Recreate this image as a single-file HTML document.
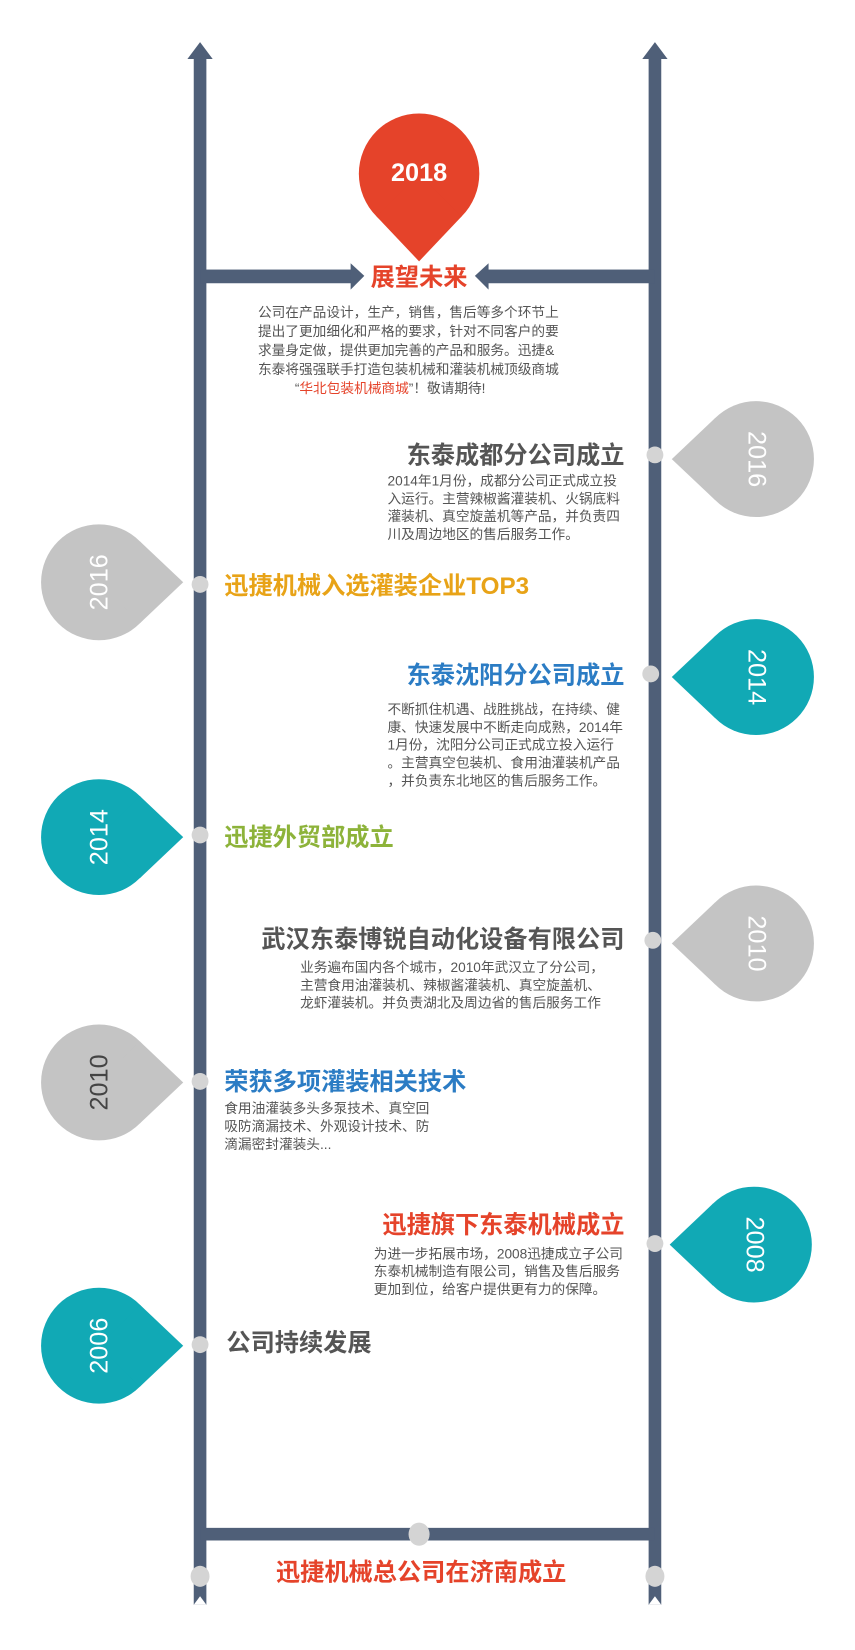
<!DOCTYPE html>
<html><head><meta charset="utf-8"><style>
html,body{margin:0;padding:0;background:#fff;}
svg{display:block;font-family:"Liberation Sans","Noto Sans CJK SC",sans-serif;}
.t{font-weight:bold;font-size:23px;}
.p{font-size:13px;fill:#555;}
.y{font-size:24px;fill:#fff;}
</style></head><body>
<svg width="855" height="1650" viewBox="0 0 812 1567" preserveAspectRatio="none">
<defs>
<g id="pin"><circle cx="0" cy="0" r="55"/><polygon points="0,0 38.9,-38.9 80,0 38.9,38.9"/></g>
</defs>
<g fill="#4f5f78">
<rect x="184" y="52" width="12" height="1472"/>
<polygon points="178,56 190,40 202,56"/>
<rect x="616" y="52" width="12" height="1472"/>
<polygon points="610,56 622,40 634,56"/>
<rect x="190" y="256" width="145" height="13"/>
<polygon points="333,250 346,262 333,275"/>
<rect x="462" y="256" width="160" height="13"/>
<polygon points="464,250 451,262 464,275"/>
<rect x="190" y="1451" width="432" height="12"/>
</g>
<polygon points="184,1524 190,1516 196,1524" fill="#fff"/>
<polygon points="616,1524 622,1516 628,1524" fill="#fff"/>
<g fill="#e5432a"><use href="#pin" transform="translate(398,165) rotate(90) scale(1.04)"/></g>
<text x="398" y="172" text-anchor="middle" class="y" font-size="22" font-weight="bold">2018</text>
<text x="398" y="271" text-anchor="middle" class="t" fill="#e5432a" font-size="24">展望未来</text>
<g class="p" font-size="13.8">
<text x="245" y="301">公司在产品设计，生产，销售，售后等多个环节上</text>
<text x="245" y="319">提出了更加细化和严格的要求，针对不同客户的要</text>
<text x="245" y="337">求量身定做，提供更加完善的产品和服务。迅捷&amp;</text>
<text x="245" y="355">东泰将强强联手打造包装机械和灌装机械顶级商城</text>
<text x="280" y="373">“<tspan fill="#e5432a">华北包装机械商城</tspan>”！敬请期待!</text>
</g>
<g fill="#d4d4d4">
<circle cx="622" cy="432" r="8"/><circle cx="190" cy="555" r="8"/>
<circle cx="618" cy="640" r="8"/><circle cx="190" cy="793" r="8"/>
<circle cx="620" cy="893" r="8"/><circle cx="190" cy="1027" r="8"/>
<circle cx="622" cy="1181" r="8"/><circle cx="190" cy="1277" r="8"/>
<ellipse cx="398" cy="1457" rx="10" ry="11"/>
<ellipse cx="190" cy="1497" rx="9" ry="10"/><ellipse cx="622" cy="1497" rx="9" ry="10"/>
</g>
<g fill="#c4c4c4"><use href="#pin" transform="translate(718,436) rotate(180)"/></g>
<text class="y" text-anchor="middle" transform="translate(711,436) rotate(90)">2016</text>
<g fill="#11a9b5"><use href="#pin" transform="translate(718,643) rotate(180)"/></g>
<text class="y" text-anchor="middle" transform="translate(711,643) rotate(90)">2014</text>
<g fill="#c4c4c4"><use href="#pin" transform="translate(718,896) rotate(180)"/></g>
<text class="y" text-anchor="middle" transform="translate(711,896) rotate(90)">2010</text>
<g fill="#11a9b5"><use href="#pin" transform="translate(716,1182) rotate(180)"/></g>
<text class="y" text-anchor="middle" transform="translate(709,1182) rotate(90)">2008</text>
<g fill="#c4c4c4"><use href="#pin" transform="translate(94,553)"/></g>
<text class="y" text-anchor="middle" transform="translate(102,553) rotate(-90)">2016</text>
<g fill="#11a9b5"><use href="#pin" transform="translate(94,795)"/></g>
<text class="y" text-anchor="middle" transform="translate(102,795) rotate(-90)">2014</text>
<g fill="#c4c4c4"><use href="#pin" transform="translate(94,1028)"/></g>
<text class="y" text-anchor="middle" style="fill:#444" transform="translate(102,1028) rotate(-90)">2010</text>
<g fill="#11a9b5"><use href="#pin" transform="translate(94,1278)"/></g>
<text class="y" text-anchor="middle" transform="translate(102,1278) rotate(-90)">2006</text>
<text x="593" y="440" text-anchor="end" class="t" fill="#555">东泰成都分公司成立</text>
<g class="p"><text x="368" y="461">2014年1月份，成都分公司正式成立投</text>
<text x="368" y="478">入运行。主营辣椒酱灌装机、火锅底料</text>
<text x="368" y="495">灌装机、真空旋盖机等产品，并负责四</text>
<text x="368" y="512">川及周边地区的售后服务工作。</text></g>
<text x="593" y="649" text-anchor="end" class="t" fill="#2b7cc4">东泰沈阳分公司成立</text>
<g class="p"><text x="368" y="678">不断抓住机遇、战胜挑战，在持续、健</text>
<text x="368" y="695">康、快速发展中不断走向成熟，2014年</text>
<text x="368" y="712">1月份，沈阳分公司正式成立投入运行</text>
<text x="368" y="729">。主营真空包装机、食用油灌装机产品</text>
<text x="368" y="746">，并负责东北地区的售后服务工作。</text></g>
<text x="593" y="900" text-anchor="end" class="t" fill="#555">武汉东泰博锐自动化设备有限公司</text>
<g class="p"><text x="285" y="923">业务遍布国内各个城市，2010年武汉立了分公司，</text>
<text x="285" y="940">主营食用油灌装机、辣椒酱灌装机、真空旋盖机、</text>
<text x="285" y="957">龙虾灌装机。并负责湖北及周边省的售后服务工作</text></g>
<text x="593" y="1171" text-anchor="end" class="t" fill="#e5432a">迅捷旗下东泰机械成立</text>
<g class="p"><text x="355" y="1195">为进一步拓展市场，2008迅捷成立子公司</text>
<text x="355" y="1212">东泰机械制造有限公司，销售及售后服务</text>
<text x="355" y="1229">更加到位，给客户提供更有力的保障。</text></g>
<text x="213" y="564" class="t" fill="#e8a317">迅捷机械入选灌装企业TOP3</text>
<text x="213" y="803" class="t" fill="#8db33a">迅捷外贸部成立</text>
<text x="213" y="1035" class="t" fill="#2b7cc4">荣获多项灌装相关技术</text>
<g class="p" font-size="13.8"><text x="213" y="1057">食用油灌装多头多泵技术、真空回</text>
<text x="213" y="1074">吸防滴漏技术、外观设计技术、防</text>
<text x="213" y="1091">滴漏密封灌装头...</text></g>
<text x="215" y="1283" class="t" fill="#555">公司持续发展</text>
<text x="400" y="1501" text-anchor="middle" class="t" fill="#e5432a" font-size="24">迅捷机械总公司在济南成立</text>
</svg>
</body></html>
